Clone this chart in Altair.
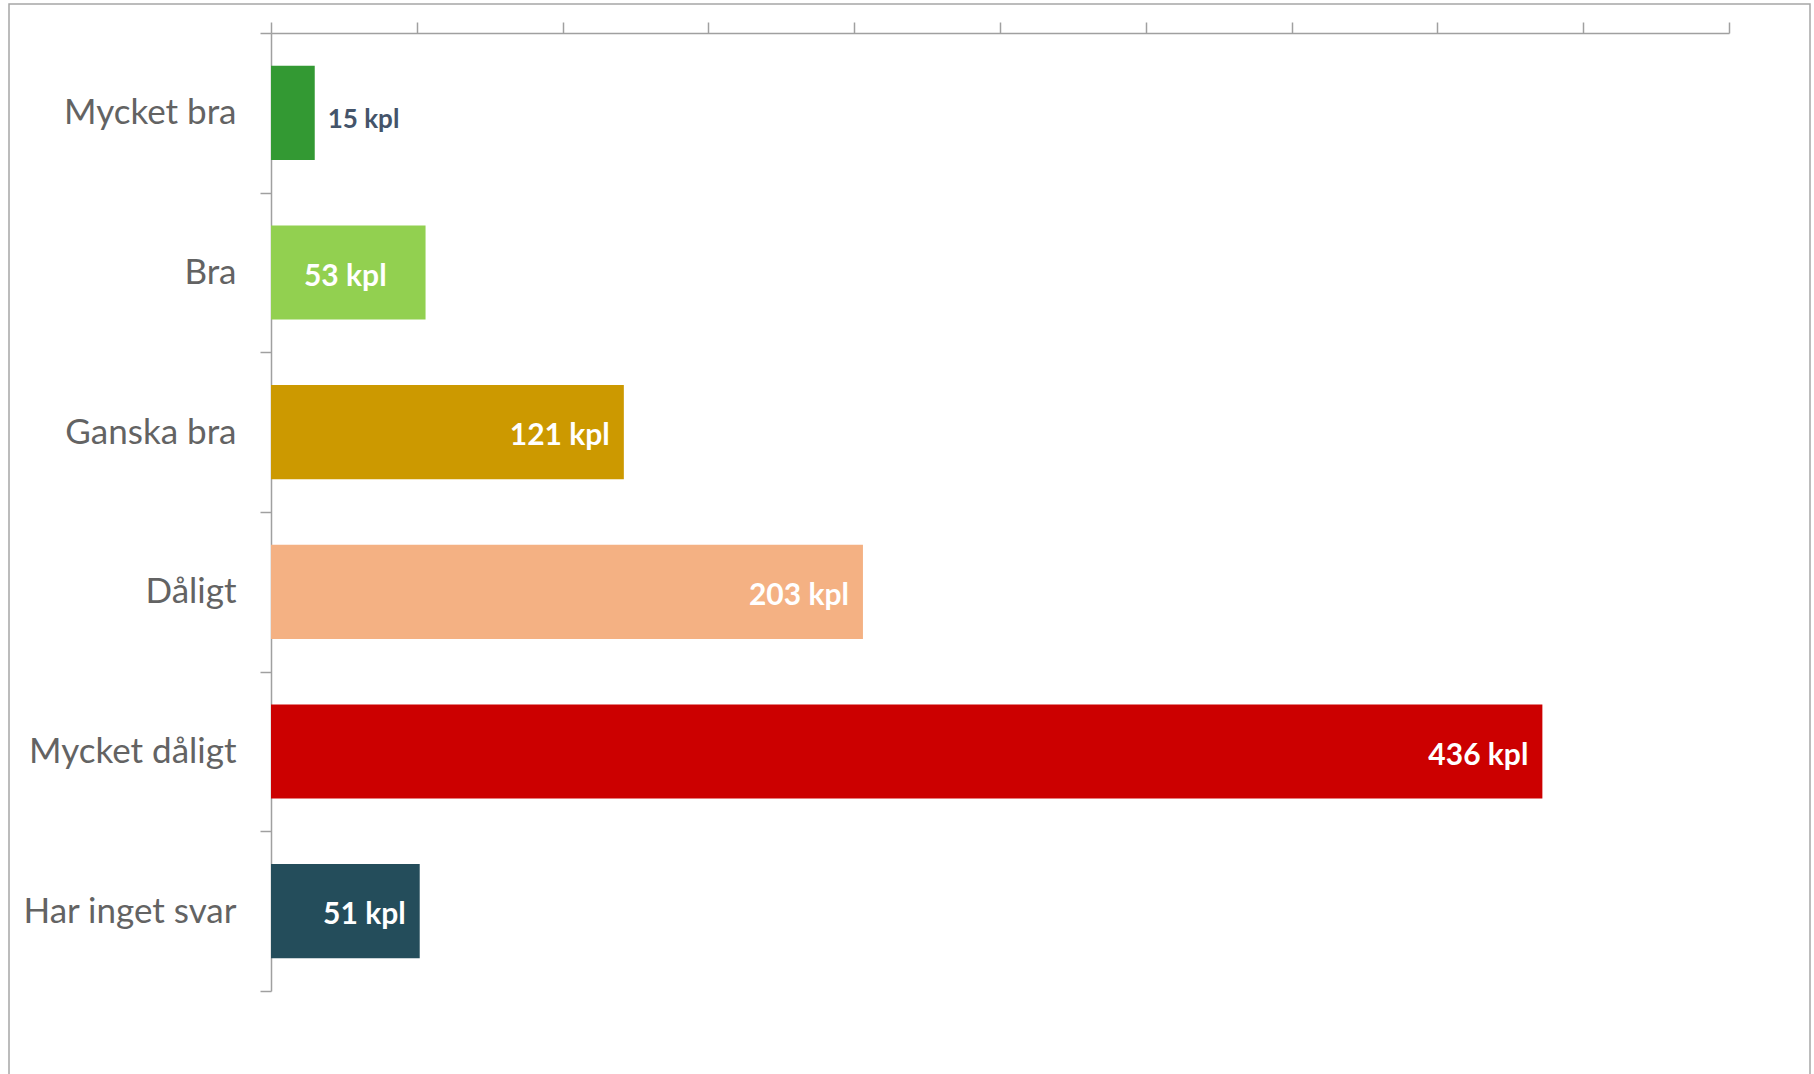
import altair as alt
import pandas as pd

categories = ["Mycket bra", "Bra", "Ganska bra", "Dåligt", "Mycket dåligt", "Har inget svar"]
values = [15, 53, 121, 203, 436, 51]
labels = ["15 kpl", "53 kpl", "121 kpl", "203 kpl", "436 kpl", "51 kpl"]
colors = ["#339933", "#92D050", "#CC9900", "#F4B183", "#CC0000", "#244D5B"]
x_ticks = [0, 50, 100, 150, 200, 250, 300, 350, 400, 450, 500]

df = pd.DataFrame({"kategori": categories, "antal": values, "etikett": labels})

FONT = "Lato"
AXIS_COLOR = "#A0A0A0"

y_scale = alt.Scale(domain=categories, paddingInner=0, paddingOuter=0)
y_enc = alt.Y(
    "kategori:N",
    sort=categories,
    scale=y_scale,
    axis=alt.Axis(
        title=None,
        labelFont=FONT,
        labelFontSize=35,
        labelColor="#636363",
        labelPadding=24,
        labelLimit=0,
        tickSize=11,
        tickColor=AXIS_COLOR,
        domainColor=AXIS_COLOR,
        tickBand="extent",
        tickWidth=1.5,
        domainWidth=1.5,
    ),
)
y_plain = alt.Y("kategori:N", sort=categories, scale=y_scale)
x_scale = alt.Scale(domain=[0, 500], nice=False)

base = alt.Chart(df)

bars = base.mark_bar(height={"band": 0.59}).encode(
    x=alt.X(
        "antal:Q",
        scale=x_scale,
        axis=alt.Axis(
            orient="top",
            title=None,
            labels=False,
            values=x_ticks,
            tickSize=11,
            tickColor=AXIS_COLOR,
            domainColor=AXIS_COLOR,
            tickWidth=1.5,
            domainWidth=1.5,
            grid=False,
        ),
    ),
    y=y_enc,
    color=alt.Color("kategori:N", scale=alt.Scale(domain=categories, range=colors), legend=None),
)

inside = base.transform_filter(
    alt.FieldOneOfPredicate(field="kategori", oneOf=["Ganska bra", "Dåligt", "Mycket dåligt", "Har inget svar"])
).mark_text(align="right", baseline="middle", dx=-14, dy=4, font=FONT, fontSize=30, fontWeight="bold", color="white").encode(
    x=alt.X("antal:Q", scale=x_scale),
    y=y_plain,
    text="etikett:N",
)

centered = base.transform_filter(
    alt.FieldEqualPredicate(field="kategori", equal="Bra")
).transform_calculate(mitt="datum.antal / 2").mark_text(
    align="center", baseline="middle", dx=-3, dy=4, font=FONT, fontSize=30, fontWeight="bold", color="white"
).encode(
    x=alt.X("mitt:Q", scale=x_scale),
    y=y_plain,
    text="etikett:N",
)

outside = base.transform_filter(
    alt.FieldEqualPredicate(field="kategori", equal="Mycket bra")
).mark_text(align="left", baseline="middle", dx=13, dy=7, font=FONT, fontSize=26, fontWeight="bold", color="#44546A").encode(
    x=alt.X("antal:Q", scale=x_scale),
    y=y_plain,
    text="etikett:N",
)

frame = alt.Chart(pd.DataFrame({"f": [0]})).mark_rect(
    fill=None, stroke="#A6A6A6", strokeWidth=1.5
).encode(
    x=alt.value(-262), x2=alt.value(1539), y=alt.value(-29), y2=alt.value(1070)
)

chart = alt.layer(frame, bars, inside, centered, outside).properties(
    width=1458,
    height=958,
    autosize=alt.AutoSizeParams(type="none"),
    padding={"left": 271, "top": 33, "right": 85, "bottom": 83},
    background="white",
).configure_view(stroke=None)

chart.save("out.html", embed_options={"renderer": "svg", "actions": False})
